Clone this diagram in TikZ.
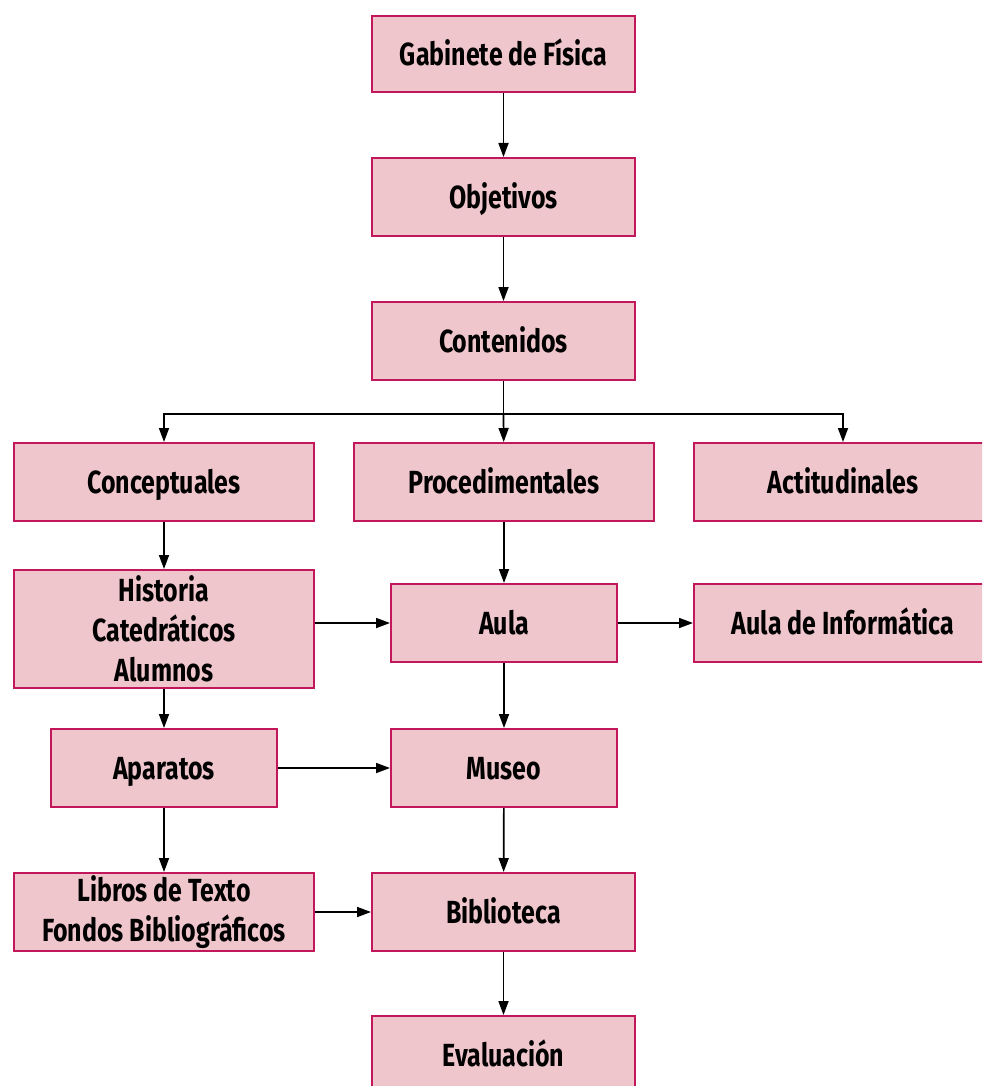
\documentclass[tikz,border=0pt]{standalone}
\usepackage{fontspec}
\newfontfamily\boxfont{Fira Sans}[FakeStretch=0.78]
\usetikzlibrary{arrows.meta}
\definecolor{boxfill}{HTML}{EFC6CC}
\definecolor{boxline}{HTML}{C2185B}
\begin{document}
\begin{tikzpicture}[x=1pt,y=-1pt,
  box/.style={draw=boxline,fill=boxfill,line width=2pt,minimum height=78pt,inner sep=0pt,
    align=center,font=\boxfont\bfseries\fontsize{32}{40}\selectfont},
  one/.style={box,text height=22pt,text depth=0pt},
  arr/.style={line width=1.7pt,-{Triangle[length=14pt,width=10pt]}},
  ln/.style={line width=1.7pt}]
\useasboundingbox (0,0) rectangle (982,1086);
\clip (0,0) rectangle (982,1086);
\node[one,minimum width=263pt,minimum height=76pt] (gab) at (503.5,54.5) {Gabinete de Física};
\node[one,minimum width=263pt] (obj) at (503.5,197) {Objetivos};
\node[one,minimum width=263pt] (con) at (503.5,341) {Contenidos};
\node[one,minimum width=300pt] (cep) at (164,482) {Conceptuales};
\node[one,minimum width=300pt] (pro) at (504,482) {Procedimentales};
\node[one,minimum width=298pt] (act) at (843,482) {Actitudinales};
\node[box,minimum width=300pt,minimum height=118pt] (his) at (164,629) {Historia\\Catedráticos\\Alumnos};
\node[one,minimum width=226pt] (aula) at (504,623) {Aula};
\node[one,minimum width=298pt] (ainf) at (843,623) {Aula de Informática};
\node[one,minimum width=226pt] (apa) at (164,768) {Aparatos};
\node[one,minimum width=226pt] (mus) at (504,768) {Museo};
\node[box,minimum width=300pt] (lib) at (164,912) {Libros de Texto\\Fondos Bibliográficos};
\node[one,minimum width=263pt] (bib) at (503.5,912) {Biblioteca};
\node[one,minimum width=263pt] (eva) at (503.5,1055) {Evaluación};
\coordinate (split) at (503.5,414);
\draw[arr] (gab) -- (obj);
\draw[arr] (obj) -- (con);
\draw[ln] (con) -- (split);
\draw[arr] (split) -- (pro);
\draw[arr] (split) -| (cep);
\draw[arr] (split) -| (act);
\draw[arr] (cep) -- (his);
\draw[arr] (his) -- (apa);
\draw[arr] (apa) -- (lib);
\draw[arr] (pro) -- (aula);
\draw[arr] (aula) -- (mus);
\draw[arr] (mus) -- (bib);
\draw[arr] (bib) -- (eva);
\draw[arr] (his.east |- aula) -- (aula);
\draw[arr] (aula) -- (ainf);
\draw[arr] (apa) -- (mus);
\draw[arr] (lib) -- (bib);
\end{tikzpicture}
\end{document}
